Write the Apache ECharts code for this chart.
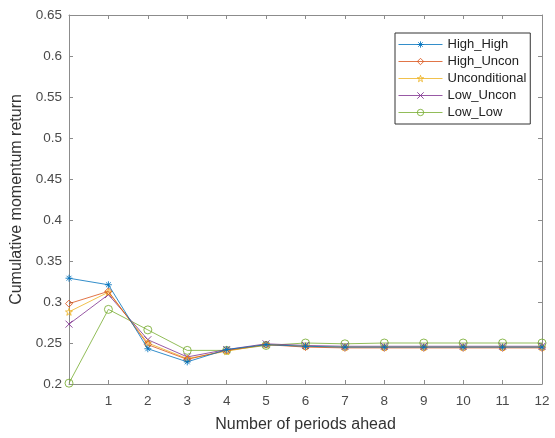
<!DOCTYPE html>
<html><head><meta charset="utf-8">
<script src="https://cdn.jsdelivr.net/npm/echarts@6/dist/echarts.min.js"></script>
<style>html,body{margin:0;padding:0;background:#fff}#c{width:555px;height:438px}</style>
</head><body><div id="c"></div>
<script>
var periods = [0,1,2,3,4,5,6,7,8,9,10,11,12];
var xTicks = ['','1','2','3','4','5','6','7','8','9','10','11','12'];
var seriesNames = ['High_High','High_Uncon','Unconditional','Low_Uncon','Low_Low'];
var highHigh = [0.329,0.321,0.243,0.227,0.242,0.248,0.246,0.245,0.245,0.245,0.245,0.245,0.245];
var highUncon = [0.298,0.313,0.248,0.230,0.241,0.248,0.245,0.244,0.244,0.244,0.244,0.244,0.244];
var unconditional = [0.288,0.312,0.250,0.231,0.240,0.248,0.246,0.245,0.245,0.245,0.245,0.245,0.245];
var lowUncon = [0.273,0.309,0.254,0.233,0.242,0.249,0.247,0.246,0.246,0.246,0.246,0.246,0.246];
var lowLow = [0.201,0.291,0.266,0.241,0.241,0.247,0.250,0.249,0.250,0.250,0.250,0.250,0.250];
var yTicks = ['0.2','0.25','0.3','0.35','0.4','0.45','0.5','0.55','0.6','0.65'];

var colors = ['#0072BD','#D95319','#EDB120','#7E2F8E','#77AC30'];
var symbols = [
  'path://M0,-5L0,5M-5,0L5,0M-3.5,-3.5L3.5,3.5M-3.5,3.5L3.5,-3.5',
  'path://M0,-5L4,0L0,5L-4,0Z',
  'path://M0,-5L1.18,-1.62L4.76,-1.55L1.9,0.62L2.94,4.05L0,2L-2.94,4.05L-1.9,0.62L-4.76,-1.55L-1.18,-1.62Z',
  'path://M-3.5,-3.5L3.5,3.5M-3.5,3.5L3.5,-3.5',
  'circle'
];
var values = [highHigh, highUncon, unconditional, lowUncon, lowLow];

function pairs(v){ return periods.map(function(p,i){ return [p, v[i]]; }); }

var series = seriesNames.map(function(n,i){
  return {
    name: n, type: 'line', data: pairs(values[i]),
    symbol: symbols[i], symbolSize: i===4 ? 8 : 7,
    showAllSymbol: true,
    lineStyle: {color: colors[i], width: 1, opacity: 0.8},
    itemStyle: {color: 'none', borderColor: colors[i], borderWidth: 1, opacity: 0.85},
    z: 10 - i
  };
});

var chart = echarts.init(document.getElementById('c'), null, {renderer:'canvas'});
var axisGray = '#8c8c8c';
var labelCol = '#4a4a4a';
var ff = 'Liberation Sans, Arial, sans-serif';
chart.setOption({
  animation: false,
  textStyle: {fontFamily: ff},
  grid: {left: 69, right: 13, top: 15, bottom: 51, containLabel: false},
  legend: {
    orient: 'vertical', left: 395, top: 33,
    data: seriesNames,
    itemWidth: 44, itemHeight: 8, itemGap: 4,
    padding: [5, 4, 5, 3],
    borderColor: '#333', borderWidth: 1, backgroundColor: '#fff',
    lineStyle: {width: 1},
    itemStyle: {borderWidth: 1},
    textStyle: {fontSize: 13, color: '#222', fontFamily: ff}
  },
  xAxis: [{
    type: 'value', min: 0, max: 12, interval: 1,
    name: 'Number of periods ahead', nameLocation: 'middle', nameGap: 33,
    nameTextStyle: {fontSize: 16, color: '#333'},
    axisLine: {show: true, onZero: false, lineStyle: {color: axisGray, width: 1}},
    axisTick: {show: true, inside: true, length: 4, lineStyle: {color: axisGray}},
    axisLabel: {fontSize: 13.5, color: labelCol, margin: 10, formatter: function(v){ return xTicks[v]; }},
    splitLine: {show: false}
  },{
    type: 'value', min: 0, max: 12, interval: 1, position: 'top',
    axisLine: {show: true, onZero: false, lineStyle: {color: axisGray, width: 1}},
    axisTick: {show: true, inside: true, length: 4, lineStyle: {color: axisGray}},
    axisLabel: {show: false}, splitLine: {show: false}
  }],
  yAxis: [{
    type: 'value', min: 0.2, max: 0.65, interval: 0.05,
    name: 'Cumulative momentum return', nameLocation: 'middle', nameGap: 41,
    nameTextStyle: {fontSize: 16, color: '#333'},
    axisLine: {show: true, onZero: false, lineStyle: {color: axisGray, width: 1}},
    axisTick: {show: true, inside: true, length: 4, lineStyle: {color: axisGray}},
    axisLabel: {fontSize: 13.5, color: labelCol, margin: 7, formatter: function(v){ return yTicks[Math.round((v-0.2)/0.05)]; }},
    splitLine: {show: false}
  },{
    type: 'value', min: 0.2, max: 0.65, interval: 0.05, position: 'right',
    axisLine: {show: true, onZero: false, lineStyle: {color: axisGray, width: 1}},
    axisTick: {show: true, inside: true, length: 4, lineStyle: {color: axisGray}},
    axisLabel: {show: false}, splitLine: {show: false}
  }],
  series: series
});
</script></body></html>
